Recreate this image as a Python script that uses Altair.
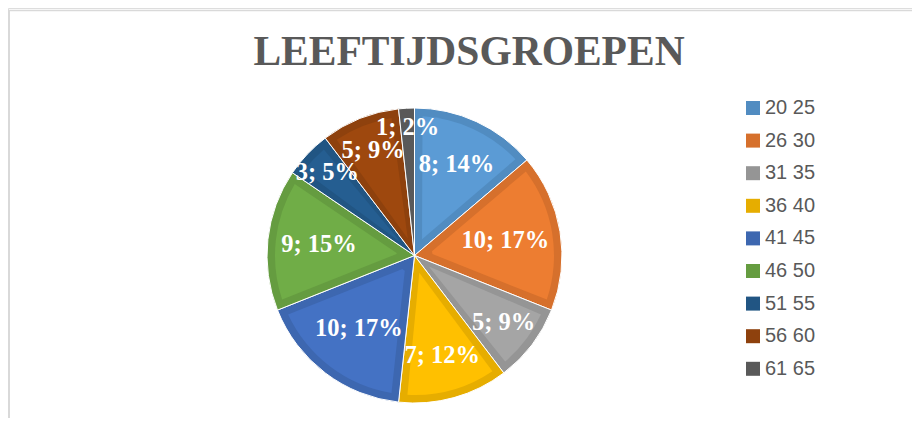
import altair as alt
import pandas as pd

# ---- data ----
groups = ["20 25", "26 30", "31 35", "36 40", "41 45", "46 50", "51 55", "56 60", "61 65"]
counts = [8, 10, 5, 7, 10, 9, 3, 5, 1]
percents = ["14%", "17%", "9%", "12%", "17%", "15%", "5%", "9%", "2%"]

# ---- styles ----
fill_colors = ["#5B9BD5", "#ED7D31", "#A5A5A5", "#FFC000", "#4472C4",
               "#70AD47", "#255E91", "#9E480E", "#636363"]
edge_colors = ["#518CC1", "#D6702C", "#959595", "#E6AD00", "#3D67B0",
               "#659C40", "#215583", "#8E410D", "#595959"]

df = pd.DataFrame({
    "group": groups,
    "count": counts,
    "idx": list(range(len(groups))),
    "label": [f"{c}; {p}" for c, p in zip(counts, percents)],
})

CX, CY = 406.5, 247.5

base = alt.Chart(df)
theta = alt.Theta("count:Q", stack=True)
order = alt.Order("idx:Q")

outer = base.mark_arc(outerRadius=147.5, stroke="#ffffff", strokeWidth=1).encode(
    theta=theta,
    order=order,
    x=alt.value(CX),
    y=alt.value(CY),
    color=alt.Color(
        "group:N",
        scale=alt.Scale(domain=groups, range=edge_colors),
        legend=alt.Legend(
            orient="none", legendX=735, legendY=90, title=None,
            symbolType="square", symbolSize=196, symbolStrokeWidth=0,
            symbolOpacity=1, labelFontSize=20, labelFont="Liberation Sans",
            labelColor="#595959", rowPadding=12.6, labelOffset=2,
        ),
    ),
)

inner = base.mark_arc(outerRadius=139.5, innerRadius=18, padAngle=0.114).encode(
    theta=theta,
    order=order,
    x=alt.value(CX),
    y=alt.value(CY),
    color=alt.Color("group:N", scale=alt.Scale(domain=groups, range=fill_colors), legend=None),
)

# narrow slices get their label pushed further out, as Excel's best fit does
labels = base.mark_text(
    font="Liberation Serif", fontSize=24.5, fontWeight="bold",
    color="#ffffff", align="center", baseline="middle",
).encode(
    theta=theta,
    order=order,
    radius=alt.Radius("count:Q", scale=alt.Scale(type="linear", domain=[1, 10], range=[128, 92], zero=False)),
    x=alt.value(CX),
    y=alt.value(CY),
    text="label:N",
)

frame_df = pd.DataFrame({"a": [0]})
left_line = alt.Chart(frame_df).mark_rule(color="#D9D9D9", strokeWidth=2).encode(
    x=alt.value(1), y=alt.value(2.5), y2=alt.value(410)
)
top_line = alt.Chart(frame_df).mark_rule(color="#D9D9D9", strokeWidth=1.5).encode(
    x=alt.value(0), x2=alt.value(904), y=alt.value(2.5)
)

chart = alt.layer(outer, inner, labels, left_line, top_line).resolve_scale(
    color="independent"
).properties(
    width=904,
    height=410,
    autosize=alt.AutoSizeParams(type="none"),
    padding=0,
    title=alt.TitleParams(
        text="LEEFTIJDSGROEPEN", font="Liberation Serif", fontSize=41.5,
        fontWeight="bold", color="#595959", anchor="middle", dx=9, dy=98,
        offset=0, baseline="alphabetic", frame="group",
    ),
).configure_view(stroke=None).configure(background="#ffffff")

chart.save("out.html", embed_options={"renderer": "svg", "actions": False})
